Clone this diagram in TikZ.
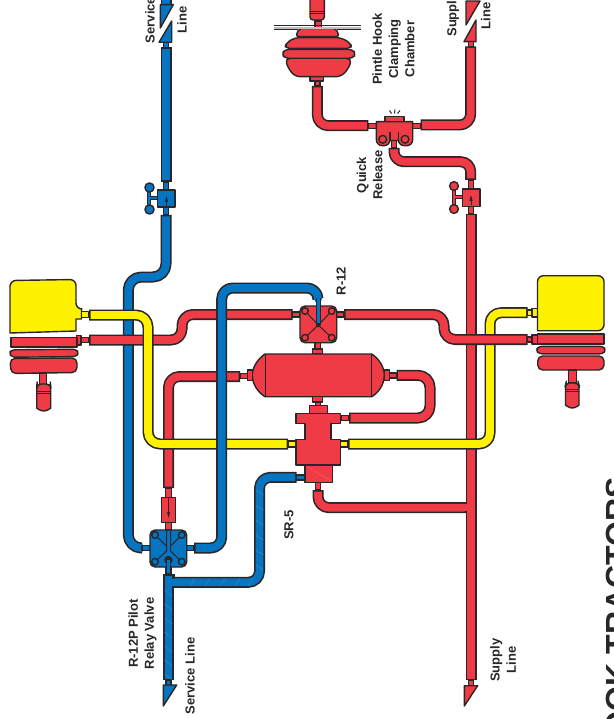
\documentclass[tikz,border=0pt]{standalone}
\usepackage{fontspec}
\setmainfont{Liberation Sans}
\definecolor{edge}{HTML}{2A2627}
\definecolor{myred}{HTML}{EF3B45}
\definecolor{myblue}{HTML}{0574C1}
\definecolor{myyel}{HTML}{FFF200}
\tikzset{
  pipeo/.style={draw=edge,line width=11pt,line cap=butt,line join=round},
  pipei/.style={line width=7.8pt,line cap=butt,line join=round,shorten >=1.5pt,shorten <=1.5pt},
  rp/.style={draw=edge,fill=myred,line width=1.4pt,line join=round},
  bp/.style={draw=edge,fill=myblue,line width=1.4pt,line join=round},
  yp/.style={draw=edge,fill=myyel,line width=1.4pt,line join=round},
  thin line/.style={draw=edge,line width=1pt},
  hatch/.style={draw=white,opacity=.22,line width=.4pt},
  lbl/.style={rotate=90,align=center,text=edge,font=\bfseries\fontsize{13}{16.2}\selectfont,inner sep=0pt},
}
\newcommand\pipe[2]{\draw[pipeo] #2; \draw[pipei,draw=#1] #2;}
\newcommand\stub[5]{\draw[#1] (#2,#3) rectangle (#4,#5);}
\begin{document}
\begin{tikzpicture}[x=1pt,y=-1pt]
\useasboundingbox (0,0) rectangle (613,719);
\clip (0,0) rectangle (613,719);
\fill[white] (0,0) rectangle (613,719);

% ---- blue service line, upper (goes under everything)
\pipe{myblue}{(166,-3) -- (166,6)}
\draw[bp] (160.3,4.7) -- (173.3,4.7) -- (160.3,28) -- cycle;
\draw[bp] (159,42.3) -- (171.7,42.3) -- (171.7,21) -- cycle;
\stub{bp}{163.5}{42.3}{168.5}{47.5}
\pipe{myblue}{(166,47.5) -- (166,182)}
\stub{bp}{163.5}{182}{168.5}{190}
\stub{bp}{163.5}{207}{168.5}{215}
% valve (blue)
\draw[thin line,line width=4.6pt] (149,188) -- (149,209) (149,198) -- (157.7,198);
\draw[draw=myblue,line width=2.2pt] (149,188) -- (149,209) (149,198) -- (157.7,198);
\draw[bp] (149.5,187.5) circle (4.6);
\draw[bp] (149.5,209.5) circle (4.6);
\draw[bp] (157.7,190) rectangle (175,207);
\draw[edge,line width=.9pt] (166.5,206) -- (166.5,200);
\fill[edge] (166.5,196.5) -- (164.8,202) -- (168.2,202) -- cycle;
\pipe{myblue}{[rounded corners=13pt] (166,215) -- (166,277) -- (128.3,277) -- (128.3,548) -- (142,548)}
\stub{bp}{142}{545.5}{150}{550.5}

% ---- red left S pipe to R-12, and yellow left chamber
\pipe{myred}{[rounded corners=11pt] (292.7,314.5) -- (182,314.5) -- (182,340) -- (89,340)}
\stub{rp}{292.7}{311.8}{300}{317}
\stub{rp}{81}{337.5}{88.5}{342.5}
\stub{rp}{76.5}{335.5}{81}{345}

% left chamber
\draw[yp,rounded corners=6pt] (10,333) -- (10,280.5) -- (76,279.5) -- (76,309) [sharp corners] -- (81.5,309) -- (81.5,319) -- (76,319) -- (76,331) -- cycle;
\stub{yp}{81.5}{311.5}{88.5}{317.5}
\draw[rp] (11,337.5) rectangle (77,347);
\draw[rp,rounded corners=3pt] (9,353) -- (12,349.8) -- (76,349.3) -- (79,353) -- (76,356.6) -- (12,357.2) -- cycle;
\draw[rp,rounded corners=5pt] (10,358.5) -- (77,358) -- (77,372.5) -- (11,373.5) -- cycle;
\draw[rp] (39.5,373) rectangle (46.5,385);
\draw[rp,rounded corners=4pt] (36.8,386) -- (37,384) -- (50.5,384) -- (50.7,386) -- (50.7,404) arc[start angle=0,end angle=180,x radius=7,y radius=7] -- cycle;
\draw[thin line] (37,391) -- (50.5,391) (37,393.5) -- (50.5,393.5);

% red vertical from tank to pilot valve
\pipe{myred}{[rounded corners=11pt] (240,376.5) -- (168.5,376.5) -- (168.5,488)}
\stub{rp}{240}{373.5}{247.5}{378.5}
\stub{rp}{165.5}{488}{171.5}{497.3}
\stub{rp}{165.5}{522.7}{171.5}{530}
\draw[rp] (161.7,497.3) rectangle (175.7,522.7);
\draw[edge,line width=.8pt] (168.5,498) -- (168.5,514);
\fill[edge] (168.5,518) -- (167,512) -- (170,512) -- cycle;

% yellow left
\pipe{myyel}{[rounded corners=12pt] (89,315) -- (148,315) -- (148,444) -- (288,444)}
\stub{yp}{288}{441}{296}{447}

% blue x=222 over everything
\pipe{myblue}{[rounded corners=11pt] (194,548) -- (221.7,548)  -- (221.7,288) -- (318,288) -- (318,299)}
\stub{bp}{186.7}{545.5}{194}{550.5}

% ---- red right S pipe
\draw[rp] (466,1) -- (480,1) -- (466,25) -- cycle;
\draw[rp] (464,41.7) -- (476,41.7) -- (476,20) -- cycle;
\stub{rp}{468.5}{41.7}{473.5}{46.5}

% supply vertical + branch (under yellow)
\pipe{myred}{(471,214) -- (471,680)}
\pipe{myred}{[rounded corners=11pt] (318,490) -- (318,507.7) -- (466,507.7)}
\fill[myred] (462,504) rectangle (468,511.4);
\stub{rp}{468.5}{680}{473.5}{686}
\draw[rp] (464.3,685.7) -- (477.7,685.7) -- (464.3,706) -- cycle;

% yellow right
\pipe{myyel}{[rounded corners=11pt] (348,444) -- (490,444) -- (490,312.7) -- (527.7,312.7)}
\stub{yp}{340.7}{441}{348}{447}
\stub{yp}{527.7}{310}{532}{315.5}
\stub{yp}{532}{308.5}{537.5}{317}
\draw[yp,rounded corners=6pt] (537.5,330.7) -- (537.5,275.7) -- (604,275.7) -- (604,330.7) [sharp corners] -- cycle;

% S-pipe right (over yellow and supply)
\pipe{myred}{[rounded corners=11pt] (344,314.5) -- (444,314.5) -- (444,339.5) -- (527.7,339.5)}
\stub{rp}{336.7}{311.8}{344}{317}
\stub{rp}{527.7}{337}{532}{342}
\stub{rp}{532}{335}{537.5}{344}
\draw[rp] (537.7,334) rectangle (604,344);
\draw[rp,rounded corners=3pt] (535.7,350) -- (539,346.3) -- (603,346.3) -- (606,350) -- (603,353.8) -- (539,353.8) -- cycle;
\draw[rp,rounded corners=5pt] (537.7,356) -- (604,356) -- (604,370) -- (537.7,370) -- cycle;
\draw[rp] (568.5,370) rectangle (576.5,383);
\draw[rp,rounded corners=4pt] (565.5,385) -- (566,383) -- (578.5,383) -- (579,385) -- (579,401) arc[start angle=0,end angle=180,x radius=6.75,y radius=7] -- cycle;
\draw[thin line] (565.5,389) -- (579,389) (565.5,391.5) -- (579,391.5);

% tank
\stub{rp}{315}{342.7}{320.5}{349}
\stub{rp}{312.7}{349}{322.7}{354}
\draw[rp] (265,354) -- (371.7,354) .. controls (378,358) and (384.3,366) .. (384.3,375.3) .. controls (384.3,385) and (378,393) .. (371.7,396.7) -- (265,396.7) .. controls (259,393) and (252.3,385) .. (252.3,375.3) .. controls (252.3,366) and (259,358) .. (265,354) -- cycle;
\draw[thin line] (265,354) -- (265,396.7) (371.7,354) -- (371.7,396.7);
\stub{rp}{247.3}{370}{252.3}{380.7}
\stub{rp}{384.3}{370}{389.3}{380.7}
\stub{rp}{389.3}{373}{396.7}{378}
\pipe{myred}{[rounded corners=12pt] (396.7,375.3) -- (430,375.3) -- (430,418) -- (349,418)}
\stub{rp}{341}{415.5}{349}{420.5}
\stub{rp}{312.7}{396.7}{322.7}{402}
\stub{rp}{315.5}{402}{320.5}{406}

% SR-5 body
\draw[rp] (309.3,405.7) rectangle (327.7,413.3);
\draw[rp] (296,413.3) -- (340.7,413.3) -- (340.7,423.3) -- (331,423.3) -- (331,439.3) -- (340.7,439.3) -- (340.7,465) -- (296,465) -- (296,439.3) -- (305,439.3) -- (305,423.3) -- (296,423.3) -- cycle;
\draw[rp] (305,465) rectangle (332.3,482.3);
\draw[hatch] (307,466.5) -- (331,481);
\stub{rp}{315.5}{482.3}{320.5}{490}

% R-12
\draw[rp,rounded corners=5pt] (300,306) rectangle (336.7,342.7);
\foreach \cx/\cy in {305/311,331.7/311,305/337.7,331.7/337.7}{
  \draw[thin line] (318.3,325) -- (\cx,\cy);
  \draw[rp] (\cx,\cy) circle (3.3);
}
\fill[edge] (318.3,325) circle (2.2);
\draw[edge,line width=4.4pt] (318.3,298) -- (318.3,325);
\draw[myblue,line width=2.4pt] (318.3,297) -- (318.3,323);

% pilot valve
\pipe{myblue}{(168.5,574) -- (168.5,680)}
\pipe{myblue}{[rounded corners=11pt] (172,582.3) -- (259.5,582.3) -- (259.5,477.3) -- (296.7,477.3)}
\fill[myblue] (166,578.6) rectangle (174,586);
\draw[edge,line width=1.3pt] (173.9,577) -- (173.9,574);
\foreach \a in {590,604,618,632,646,660,674}{\draw[hatch] (164.5,\a) -- (172.5,\a+6);}
\foreach \a in {190,205,220,235,248}{\draw[hatch] (\a,586) -- (\a+5,578.5);}
\foreach \a in {490,505,520,535,550,565}{\draw[hatch] (255.5,\a) -- (263.5,\a+5);}
\stub{bp}{296.7}{475}{305}{480}
\stub{bp}{165.8}{680}{171}{685.5}
\draw[bp] (163.3,685) -- (176.7,685) -- (163.3,706) -- cycle;
\stub{bp}{165.8}{567}{171}{574}
\draw[bp,rounded corners=5pt] (150,530) rectangle (186.7,567);
\draw[thin line] (166.5,530) -- (166.5,551) -- (155,561.7)
                 (170.5,530) -- (170.5,551) -- (181.7,561.7)
                 (155,535) -- (166.5,546) (181.7,535) -- (170.5,546);
\foreach \cx/\cy in {155/535,181.7/535,155/561.7,181.7/561.7}{
  \draw[bp] (\cx,\cy) circle (3.3);
}
\fill[edge] (168.4,560) circle (4.2);
\fill[myblue] (166.8,560) rectangle (170,568);
\draw[edge,line width=.9pt] (166.3,561) -- (166.3,567) (170.5,561) -- (170.5,567);

% quick release and supply valve
\pipe{myred}{[rounded corners=11pt] (420.7,125) -- (470.7,125) -- (470.7,46.5)}
\pipe{myred}{[rounded corners=11pt] (368.3,125.7) -- (317.3,125.7) -- (317.3,86)}
\pipe{myred}{[rounded corners=10pt] (394,148) -- (394,161.7) -- (470.7,161.7) -- (470.7,180)}
\stub{rp}{368.3}{123.5}{376.3}{128.5}
\stub{rp}{412.7}{123.5}{420.7}{128.5}
\stub{rp}{391.7}{140}{396.7}{148}
\draw[rp] (376.3,121.7) -- (412.7,121.7) [rounded corners=6pt] -- (412.7,145.7) -- (398.3,145.7) [sharp corners] -- (398.3,140.5) -- (390,140.5) [rounded corners=6pt] -- (390,145.7) -- (376.3,145.7) [sharp corners] -- cycle;
\draw[edge,line width=1.2pt] (390,132) -- (390,141) (398.3,132) -- (398.3,141);
\draw[rp] (382.7,139.3) circle (3.9);
\draw[rp] (405,139.3) circle (3.9);
\draw[rp] (385,116.7) rectangle (404,121.7);
\draw[thin line] (395,109.5) -- (394.5,113.5) (389.5,110.5) -- (391.5,113.5) (400,110.5) -- (397.5,113.5);

% supply valve
\stub{rp}{468.2}{180}{473.2}{189}
\stub{rp}{468.2}{206.7}{473.2}{214}
\draw[thin line,line width=4.6pt] (454,186) -- (454,209) (454,197) -- (462.3,197);
\draw[draw=myred,line width=2.2pt] (454,186) -- (454,209) (454,197) -- (462.3,197);
\draw[rp] (454,186) circle (4.4);
\draw[rp] (454,209) circle (4.4);
\draw[rp] (462.3,189) rectangle (480,206.7);
\draw[edge,line width=.9pt] (471,205.5) -- (471,199);
\fill[edge] (471,195) -- (469.3,201) -- (472.7,201) -- cycle;

% pintle hook chamber
\stub{rp}{315}{81}{320}{86}
\stub{rp}{310}{76.7}{323.3}{81}
\draw[rp,rounded corners=5pt] (285,58.3) -- (351.7,58.3) -- (349,68) -- (341,76.7) -- (295,76.7) -- (288,68) -- cycle;
\draw[rp,rounded corners=4pt] (285,48.3) -- (286,43) -- (295,37.7) -- (341,37.7) -- (350.5,43) -- (351.7,48.3) -- cycle;
\draw[rp,rounded corners=3.5pt] (281.7,54) -- (285,49.5) -- (352.5,49.5) -- (356,54) -- (352.5,58.3) -- (285,58.3) -- cycle;
\draw[rp,rounded corners=3pt] (295.7,36.7) -- (299,28.5) -- (336,28.5) -- (339.3,36.7) -- cycle;
\draw[rp] (315,21) rectangle (321.7,28.5);
\draw[rp,rounded corners=3pt] (310,-5) rectangle (324.3,20);
\draw[thin line] (310,12) -- (324.3,12) (310,14) -- (324.3,14);
\draw[draw=gray!50,line width=2.4pt] (274,27.9) -- (361,27.9);
\draw[draw=edge,line width=1pt] (274,26) -- (361,26) (274,29.8) -- (298,29.8) (337,29.8) -- (361,29.8);

% labels
\node[lbl] (svcT) at (150,20) {Service};
\node[lbl] (svcL) at (182,20) {Line};
\node[lbl] (pintle) at (393.5,49) {Pintle Hook\\Clamping\\Chamber};
\node[lbl] (supT) at (453,15) {Supply};
\node[lbl] (supL) at (485.7,16) {Line};
\node[lbl] (qr) at (369.5,175) {Quick\\Release};
\node[lbl] (r12) at (341,281) {R-12};
\node[lbl] (sr5) at (289,525) {SR-5};
\node[lbl] (pilot) at (142.5,633.5) {R-12P Pilot\\Relay Valve};
\node[lbl] (svcB) at (190,676) {Service Line};
\node[lbl] (supB) at (503,660) {Supply\\Line};
\node[rotate=90,anchor=base east,inner sep=0pt,text=edge,font=\bfseries\fontsize{32}{32}\selectfont] (title) at (628,477) {HOOK TRACTORS};
\end{tikzpicture}
\end{document}
